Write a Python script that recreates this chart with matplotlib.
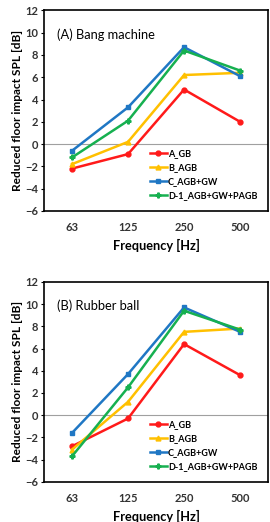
import matplotlib
matplotlib.use("Agg")
import matplotlib.pyplot as plt

plt.rcParams['font.family'] = ['Lato', 'DejaVu Sans']

freqs = ['63', '125', '250', '500']
series_names = ['A_GB', 'B_AGB', 'C_AGB+GW', 'D-1_AGB+GW+PAGB']
colors = ['#ff1a1a', '#ffc000', '#1f77c4', '#16b050']
markers = ['o', '^', 's', 'P']

bang_A = [-2.2, -0.9, 4.9, 2.0]
bang_B = [-1.8, 0.2, 6.2, 6.4]
bang_C = [-0.6, 3.3, 8.7, 6.1]
bang_D = [-1.2, 2.1, 8.4, 6.6]

ball_A = [-2.8, -0.3, 6.4, 3.6]
ball_B = [-3.1, 1.2, 7.5, 7.8]
ball_C = [-1.6, 3.7, 9.7, 7.5]
ball_D = [-3.7, 2.5, 9.4, 7.7]

fig = plt.figure(figsize=(2.7, 5.22), dpi=100)
ax1 = fig.add_axes([0.163, 0.596, 0.830, 0.384])
ax2 = fig.add_axes([0.163, 0.077, 0.830, 0.383])

panels = [(ax1, '(A) Bang machine', [bang_A, bang_B, bang_C, bang_D]),
          (ax2, '(B) Rubber ball', [ball_A, ball_B, ball_C, ball_D])]

for ax, title, data in panels:
    x = range(len(freqs))
    ax.axhline(0, color='#a0a0a0', lw=0.8, zorder=1)
    for vals, name, c, m in zip(data, series_names, colors, markers):
        ax.plot(x, vals, color=c, marker=m, ms=3.5, lw=1.8, label=name, zorder=3)
    ax.set_xlim(-0.5, 3.5)
    ax.set_ylim(-6, 12)
    ax.set_yticks(range(-6, 13, 2))
    ax.set_xticks(list(x))
    ax.set_xticklabels(freqs)
    ax.tick_params(axis='x', length=0, pad=8, labelsize=8)
    ax.tick_params(axis='y', length=2, pad=2, labelsize=8)
    for lab in ax.get_xticklabels() + ax.get_yticklabels():
        lab.set_fontweight('bold')
        lab.set_color('#333333')
    for sp in ax.spines.values():
        sp.set_linewidth(1.2)
    ax.set_xlabel('Frequency [Hz]', fontsize=9.2, fontweight='bold', labelpad=4)
    ax.set_ylabel('Reduced floor impact SPL [dB]', fontsize=8.6, fontweight='bold', labelpad=2)
    ax.text(0.06, 0.88, title, transform=ax.transAxes, fontsize=9.3, va='center')
    leg = ax.legend(loc='lower right', frameon=False, handlelength=1.9,
                    labelspacing=0.55, borderaxespad=0.8, handletextpad=0.1,
                    prop={'weight': 'bold', 'size': 6.5})

fig.savefig('out.png', dpi=100)
